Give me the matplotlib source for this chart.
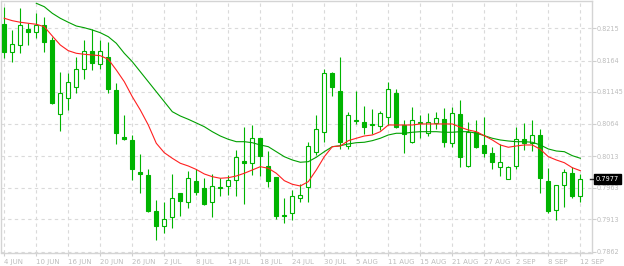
import numpy as np
import matplotlib
matplotlib.use("Agg")
import matplotlib.pyplot as plt
import matplotlib.transforms as mtrans

# OHLC, one candle per trading day
opens = [0.82218, 0.81780, 0.81881, 0.82139, 0.82087, 0.82202, 0.81965, 0.80796, 0.81044, 0.81218,
         0.81502, 0.81791, 0.81581, 0.81692, 0.81175, 0.80437, 0.80385, 0.79884, 0.79832, 0.79263,
         0.79031, 0.79173, 0.79543, 0.79401, 0.79737, 0.79631, 0.79410, 0.79642, 0.79663, 0.79753,
         0.80053, 0.80026, 0.80412, 0.79974, 0.79795, 0.79200, 0.79227, 0.79464, 0.79642, 0.80191,
         0.80507, 0.81439, 0.81159, 0.80295, 0.80685, 0.80674, 0.80622, 0.80611, 0.80744, 0.81123,
         0.80622, 0.80358, 0.80658, 0.80500, 0.80658, 0.80712, 0.80333, 0.80796, 0.79979, 0.80507,
         0.80306, 0.80175, 0.79963, 0.79764, 0.79979, 0.80396, 0.80342, 0.80464, 0.79737, 0.79279,
         0.79674, 0.79859, 0.79505]
highs = [0.82482, 0.82123, 0.82466, 0.82229, 0.82387, 0.82324, 0.82012, 0.81464, 0.81439, 0.81701,
         0.81965, 0.82134, 0.81965, 0.81938, 0.81281, 0.80780, 0.80464, 0.80164, 0.79922, 0.79437,
         0.79401, 0.79848, 0.79548, 0.79895, 0.79922, 0.79780, 0.79848, 0.79789, 0.79832, 0.80227,
         0.80586, 0.80622, 0.80417, 0.80211, 0.79800, 0.79464, 0.79595, 0.79690, 0.80358, 0.80780,
         0.81502, 0.81464, 0.81701, 0.80832, 0.81159, 0.80922, 0.80875, 0.80848, 0.81297, 0.81186,
         0.80701, 0.80902, 0.80780, 0.80807, 0.80823, 0.80895, 0.80902, 0.81017, 0.80674, 0.80701,
         0.80744, 0.80279, 0.80322, 0.79974, 0.80586, 0.80649, 0.80701, 0.80554, 0.79938, 0.79674,
         0.79927, 0.79954, 0.79848]
lows = [0.81676, 0.81622, 0.81764, 0.81886, 0.82001, 0.81780, 0.80959, 0.80532, 0.80859, 0.81132,
        0.81344, 0.81491, 0.81502, 0.81123, 0.80317, 0.80385, 0.79753, 0.79552, 0.79252, 0.78805,
        0.78911, 0.78990, 0.79184, 0.79315, 0.79516, 0.79358, 0.79164, 0.79505, 0.79516, 0.79505,
        0.79369, 0.79832, 0.79821, 0.79638, 0.79137, 0.79078, 0.79121, 0.79410, 0.79410, 0.80148,
        0.80358, 0.81085, 0.80243, 0.80243, 0.80638, 0.80480, 0.80480, 0.80543, 0.80622, 0.80570,
        0.80184, 0.80333, 0.80412, 0.80453, 0.80559, 0.80279, 0.80270, 0.79963, 0.79954, 0.80254,
        0.80112, 0.79922, 0.79816, 0.79764, 0.79922, 0.80227, 0.80211, 0.79543, 0.79236, 0.79121,
        0.79322, 0.79464, 0.79410]
closes = [0.81780, 0.81902, 0.82202, 0.82087, 0.82202, 0.81938, 0.80974, 0.81123, 0.81297, 0.81502,
          0.81791, 0.81597, 0.81791, 0.81186, 0.80491, 0.80406, 0.79922, 0.79843, 0.79268, 0.79031,
          0.79137, 0.79464, 0.79426, 0.79780, 0.79568, 0.79374, 0.79658, 0.79622, 0.79753, 0.80112,
          0.80026, 0.80412, 0.80137, 0.79742, 0.79189, 0.79179, 0.79500, 0.79511, 0.80295, 0.80554,
          0.81439, 0.81218, 0.80349, 0.80775, 0.80701, 0.80595, 0.80630, 0.80807, 0.81186, 0.80595,
          0.80475, 0.80701, 0.80674, 0.80674, 0.80728, 0.80358, 0.80807, 0.80112, 0.80507, 0.80279,
          0.80175, 0.80042, 0.80033, 0.79963, 0.80396, 0.80342, 0.80459, 0.79789, 0.79268, 0.79674,
          0.79875, 0.79505, 0.79770]

# moving averages as drawn (red = fast, green = slow)
ma_fast = [0.82308, 0.82270, 0.82245, 0.82229, 0.82213, 0.82175, 0.82028, 0.81886, 0.81796, 0.81755,
           0.81739, 0.81728, 0.81717, 0.81660, 0.81491, 0.81306, 0.81069, 0.80859, 0.80622, 0.80333,
           0.80184, 0.80096, 0.80017, 0.79974, 0.79919, 0.79848, 0.79805, 0.79780, 0.79789, 0.79816,
           0.79859, 0.79911, 0.79963, 0.79938, 0.79859, 0.79742, 0.79685, 0.79658, 0.79726, 0.79911,
           0.80121, 0.80279, 0.80290, 0.80374, 0.80412, 0.80448, 0.80464, 0.80516, 0.80622, 0.80622,
           0.80622, 0.80622, 0.80638, 0.80638, 0.80638, 0.80638, 0.80638, 0.80586, 0.80543, 0.80516,
           0.80453, 0.80385, 0.80306, 0.80270, 0.80290, 0.80306, 0.80306, 0.80238, 0.80121, 0.80069,
           0.80026, 0.79947, 0.79900]
ma_slow = [np.nan, np.nan, np.nan, np.nan, 0.82545, 0.82491, 0.82387, 0.82308, 0.82245, 0.82186,
           0.82159, 0.82123, 0.82080, 0.82017, 0.81913, 0.81755, 0.81622, 0.81464, 0.81306, 0.81148,
           0.80990, 0.80832, 0.80764, 0.80712, 0.80654, 0.80595, 0.80516, 0.80448, 0.80396, 0.80358,
           0.80358, 0.80342, 0.80306, 0.80279, 0.80200, 0.80121, 0.80069, 0.80033, 0.80042, 0.80112,
           0.80200, 0.80279, 0.80295, 0.80322, 0.80342, 0.80349, 0.80374, 0.80412, 0.80464, 0.80491,
           0.80491, 0.80507, 0.80516, 0.80516, 0.80516, 0.80507, 0.80507, 0.80516, 0.80516, 0.80491,
           0.80453, 0.80412, 0.80385, 0.80369, 0.80358, 0.80358, 0.80349, 0.80306, 0.80243, 0.80211,
           0.80200, 0.80137, 0.80096]

date_labels = ["4 JUN", "10 JUN", "16 JUN", "20 JUN", "26 JUN", "2 JUL", "8 JUL", "14 JUL",
               "18 JUL", "24 JUL", "30 JUL", "5 AUG", "11 AUG", "15 AUG", "21 AUG", "27 AUG",
               "2 SEP", "8 SEP", "12 SEP"]
price_ticks = [0.7862, 0.7913, 0.7963, 0.8013, 0.8064, 0.81145, 0.8164, 0.8215]
price_labels = ["0.7862", "0.7913", "0.7963", "0.8013", "0.8064", "0.81145", "0.8164", "0.8215"]

candle_col = "#00b400"
grid_col = "#dadada"
text_col = "#bdbdbd"

o = np.array(opens); h = np.array(highs); l = np.array(lows); c = np.array(closes)
x = np.arange(len(o))
up = c >= o
bottom = np.minimum(o, c)
height = np.abs(c - o)

fig = plt.figure(figsize=(6.24, 2.66), dpi=100)
ax = fig.add_axes([1 / 624, 1 - 252.5 / 266, 591 / 624, 251.5 / 266])

ax.vlines(x, l, h, color=candle_col, lw=0.8, zorder=2)
ax.bar(x[up], height[up], bottom=bottom[up], width=0.5, facecolor="white",
       edgecolor=candle_col, lw=0.8, zorder=3)
ax.bar(x[~up], height[~up], bottom=bottom[~up], width=0.5, facecolor=candle_col,
       edgecolor=candle_col, lw=0.8, zorder=3)

ax.plot(x, ma_slow, color="#00a000", lw=0.8, zorder=4)
ax.plot(x, ma_fast, color="#ff2020", lw=0.8, zorder=4)

ax.set_xlim(-0.41, 73.46)
ax.set_ylim(0.78607, 0.82581)

ax.set_xticks(x[::4])
ax.set_xticklabels(date_labels, ha="left")
ax.set_yticks(price_ticks)
ax.set_yticklabels(price_labels)
ax.yaxis.tick_right()

ax.tick_params(axis="x", length=2, width=0.8, color="#cfcfcf", pad=2.5,
               labelsize=5, labelcolor=text_col)
ax.tick_params(axis="y", length=3, width=0.8, color="#cfcfcf", pad=0.5,
               labelsize=4.7, labelcolor=text_col)

ax.grid(True, color=grid_col, linestyle=(0, (3, 3)), lw=0.8)
ax.set_axisbelow(True)
for sp in ax.spines.values():
    sp.set_color("#d4d4d4")
    sp.set_linewidth(1)

# last price marker on the right axis
trans = mtrans.blended_transform_factory(ax.transAxes, ax.transData)
last = closes[-1]
ax.plot([0.997, 1.005], [last, last], color="#303030", lw=1, transform=trans, clip_on=False, zorder=5)
ax.text(1.006, last, "%.4f" % last, transform=trans, fontsize=4.8, color="white",
        va="center", ha="left", zorder=6,
        bbox=dict(boxstyle="square,pad=0.3", facecolor="black", edgecolor="black"))

fig.savefig("out.png", dpi=100)
